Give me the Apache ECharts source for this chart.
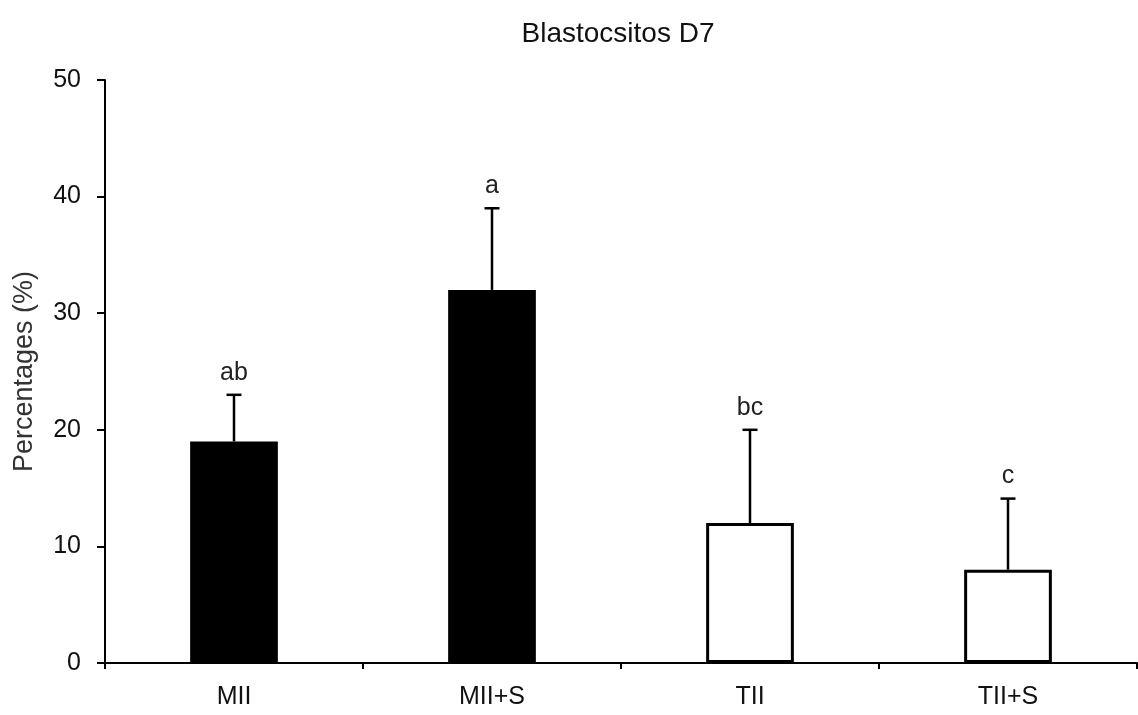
<!DOCTYPE html>
<html>
<head>
<meta charset="utf-8">
<script src="https://cdn.jsdelivr.net/npm/echarts@6/dist/echarts.min.js"></script>
<style>
  html, body { margin: 0; padding: 0; background: #fff; }
  #chart { width: 1138px; height: 715px; }
</style>
</head>
<body>
<div id="chart"></div>
<script>
// categorias
var categories = ['MII', 'MII+S', 'TII', 'TII+S'];
// medias (%)
var means = [19, 32, 12, 8];
// extremo superior de la barra de error
var errTop = [23, 39, 20, 14.1];
// letras de significancia
var letters = ['ab', 'a', 'bc', 'c'];

var FONT = '"Liberation Sans", Arial, sans-serif';

var chart = echarts.init(document.getElementById('chart'));

// barras negras las dos primeras, blancas con borde las otras
var barData = means.map(function (v, i) {
    var solid = i < 2;
    return {
        value: v,
        itemStyle: solid
            ? { color: '#000', borderColor: '#000', borderWidth: 0 }
            : { color: '#fff', borderColor: '#000', borderWidth: 3 }
    };
});

var errData = means.map(function (v, i) {
    return [i, v, errTop[i]];
});

var option = {
    animation: false,
    backgroundColor: '#fff',
    title: {
        text: 'Blastocsitos D7',
        left: 613,
        textAlign: 'center',
        top: 15,
        textStyle: { fontFamily: FONT, fontSize: 28, fontWeight: 'normal', color: '#111' }
    },
    grid: { left: 105, right: 1, top: 80, bottom: 52 },
    xAxis: {
        type: 'category',
        data: categories,
        axisLine: { lineStyle: { color: '#000', width: 2 } },
        axisTick: { show: true, length: 6, lineStyle: { color: '#000', width: 2 } },
        axisLabel: { fontFamily: FONT, fontSize: 25, color: '#111', margin: 22 }
    },
    yAxis: {
        type: 'value',
        min: 0,
        max: 50,
        interval: 10,
        name: 'Percentages (%)',
        nameLocation: 'middle',
        nameGap: 67,
        nameRotate: 90,
        nameTextStyle: { fontFamily: FONT, fontSize: 27, color: '#333' },
        splitLine: { show: false },
        axisLine: { show: true, lineStyle: { color: '#000', width: 2 } },
        axisTick: { show: true, length: 8, lineStyle: { color: '#000', width: 2 } },
        axisLabel: { fontFamily: FONT, fontSize: 25, color: '#111', margin: 24 }
    },
    series: [
        {
            type: 'bar',
            data: barData,
            barWidth: '34%',
            z: 2
        },
        {
            type: 'custom',
            z: 3,
            data: errData,
            renderItem: function (params, api) {
                var i = api.value(0);
                var base = api.coord([i, api.value(1)]);
                var top = api.coord([i, api.value(2)]);
                var x = base[0];
                var capHalf = 7.5;
                return {
                    type: 'group',
                    children: [
                        {
                            type: 'line',
                            shape: { x1: x, y1: base[1], x2: x, y2: top[1] },
                            style: { stroke: '#000', lineWidth: 2.5 }
                        },
                        {
                            type: 'line',
                            shape: { x1: x - capHalf, y1: top[1], x2: x + capHalf, y2: top[1] },
                            style: { stroke: '#000', lineWidth: 2.5 }
                        },
                        {
                            type: 'text',
                            x: x,
                            y: top[1] - 22,
                            style: {
                                text: letters[params.dataIndex],
                                fontFamily: FONT,
                                fontSize: 25,
                                fill: '#222',
                                align: 'center',
                                verticalAlign: 'middle'
                            }
                        }
                    ]
                };
            }
        }
    ]
};

chart.setOption(option);
</script>
</body>
</html>
